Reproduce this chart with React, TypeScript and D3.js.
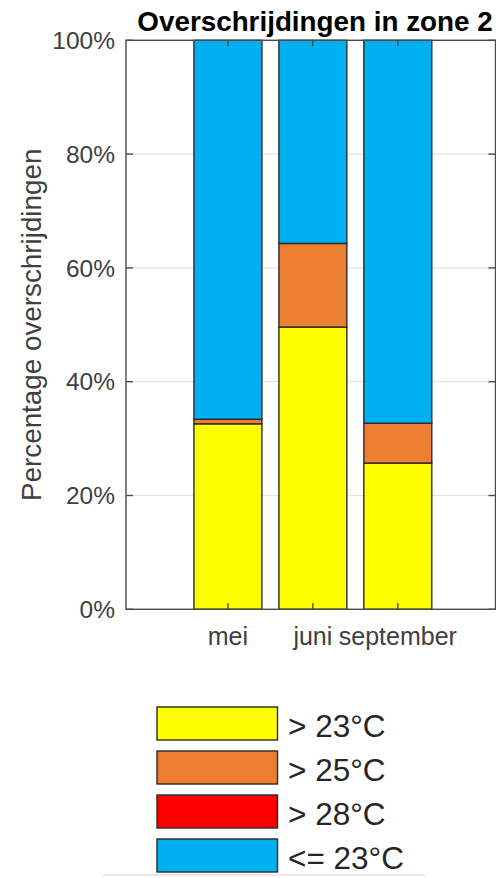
import React from "react";
import * as d3 from "d3";

const categories = ["mei", "juni", "september"];
const gt23 = [32.6, 49.6, 25.7];
const gt25 = [0.8, 14.7, 7.0];
const gt28 = [0, 0, 0];
const le23 = [66.6, 35.7, 67.3];
const seriesNames = ["> 23°C", "> 25°C", "> 28°C", "<= 23°C"];
const seriesColors = ["#FFFF00", "#ED7D31", "#FF0000", "#00B0F0"];
const yTicks = [0, 20, 40, 60, 80, 100];
const title = "Overschrijdingen in zone 2";
const yLabel = "Percentage overschrijdingen";

const W = 496;
const H = 878;
const FONT = "'Liberation Sans', Arial, Helvetica, sans-serif";

export default function App() {
  const left = 126, right = 495.5, top = 40.3, bottom = 609.3;
  const x = d3.scaleLinear().domain([-0.2, 4.15]).range([left, right]);
  const y = d3.scaleLinear().domain([0, 100]).range([bottom, top]);
  const barW = x(0.8) - x(0);

  const table = categories.map((c, i) => ({
    cat: c,
    s0: gt23[i],
    s1: gt25[i],
    s2: gt28[i],
    s3: le23[i],
  }));
  const stacked = d3.stack<any>().keys(["s0", "s1", "s2", "s3"])(table);

  const axisColor = "#4a4a4a";
  const textColor = "#404040";

  return (
    <svg width={W} height={H} style={{ position: "absolute", left: 0, top: 0, background: "#fff" }}>
      <rect x={0} y={0} width={W} height={H} fill="#fff" />
      {/* gridlines */}
      {yTicks.filter((t) => t > 0 && t < 100).map((t) => (
        <line key={"g" + t} x1={left} x2={right} y1={y(t)} y2={y(t)} stroke="#e3e3e3" strokeWidth={1.2} />
      ))}
      {/* bars */}
      {stacked.map((layer, li) =>
        layer.map((d, i) => {
          const h = y(d[0]) - y(d[1]);
          if (h <= 0) return null;
          return (
            <rect
              key={li + "-" + i}
              x={x(i + 1) - barW / 2}
              y={y(d[1])}
              width={barW}
              height={h}
              fill={seriesColors[li]}
              stroke="#2a2a2a"
              strokeWidth={1.4}
            />
          );
        })
      )}
      {/* axes box */}
      <rect x={left} y={top} width={right - left} height={bottom - top} fill="none" stroke={axisColor} strokeWidth={1.4} />
      {/* y ticks */}
      {yTicks.map((t) => (
        <g key={"yt" + t}>
          <line x1={left} x2={left + 7} y1={y(t)} y2={y(t)} stroke={axisColor} strokeWidth={1.4} />
          <line x1={right} x2={right - 7} y1={y(t)} y2={y(t)} stroke={axisColor} strokeWidth={1.4} />
          <text x={115} y={y(t) + 8.7} textAnchor="end" fontFamily={FONT} fontSize={24.5} fill={textColor}>
            {t + "%"}
          </text>
        </g>
      ))}
      {/* x ticks */}
      {categories.map((c, i) => (
        <g key={"xt" + c}>
          <line x1={x(i + 1)} x2={x(i + 1)} y1={bottom} y2={bottom - 6} stroke={axisColor} strokeWidth={1.4} />
          <line x1={x(i + 1)} x2={x(i + 1)} y1={top} y2={top + 6} stroke={axisColor} strokeWidth={1.4} />
          <text x={x(i + 1)} y={645} textAnchor="middle" fontFamily={FONT} fontSize={25} fill={textColor}>
            {c}
          </text>
        </g>
      ))}
      {/* title */}
      <text x={315} y={30.7} textAnchor="middle" fontFamily={FONT} fontWeight="bold" fontSize={27.8} fill="#000">
        {title}
      </text>
      {/* y label */}
      <text
        transform={`translate(41, ${(top + bottom) / 2}) rotate(-90)`}
        textAnchor="middle"
        fontFamily={FONT}
        fontSize={27.8}
        fill={textColor}
      >
        {yLabel}
      </text>
      {/* legend */}
      {seriesNames.map((n, i) => {
        const ty = 707 + i * 44;
        return (
          <g key={"lg" + i}>
            <rect x={157} y={ty} width={120.5} height={33} fill={seriesColors[i]} stroke="#2a2a2a" strokeWidth={1.4} />
            <text x={288} y={ty + 30} fontFamily={FONT} fontSize={31.5} fill="#262626">
              {n}
            </text>
          </g>
        );
      })}
      <line x1={103} x2={425} y1={875} y2={875} stroke="#e0e0e0" strokeWidth={1.5} />
    </svg>
  );
}
